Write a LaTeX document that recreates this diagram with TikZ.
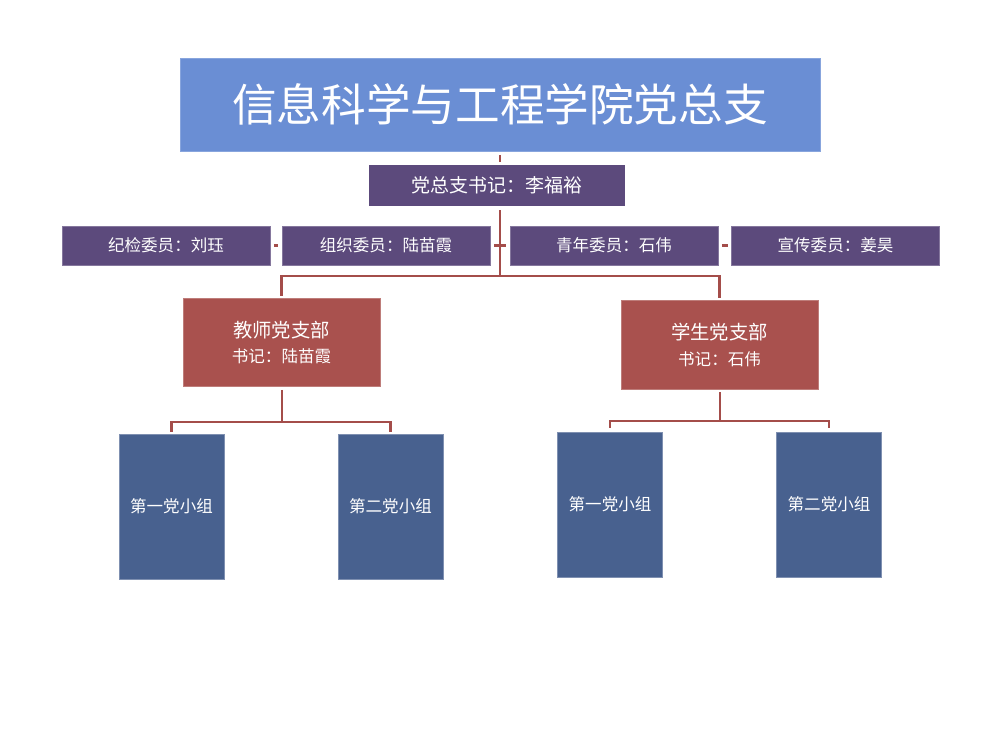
\documentclass[tikz,border=0pt]{standalone}
\usepackage{fontspec}
\newfontfamily\cjk{Noto Sans CJK SC}
\usetikzlibrary{positioning}

\definecolor{bleuTitre}{HTML}{6A8ED4}
\definecolor{violetBoite}{HTML}{5C4A7C}
\definecolor{rougeBoite}{HTML}{A9514E}
\definecolor{bleuGroupe}{HTML}{48618F}
\definecolor{rougeLien}{HTML}{A44D4A}

\tikzset{
  boite/.style={rectangle, text=white, inner sep=0pt, align=center},
  titre/.style={boite, fill=bleuTitre, draw=bleuTitre!80!white, line width=0.3pt,
    minimum width=12.8cm, minimum height=1.86cm, font=\cjk\fontsize{25.4}{28}\selectfont},
  secretaire/.style={boite, fill=violetBoite, minimum width=5.12cm, minimum height=0.82cm,
    font=\cjk\fontsize{10.8}{13}\selectfont},
  membre/.style={boite, fill=violetBoite, draw=violetBoite!75!white, line width=0.3pt,
    minimum width=4.16cm, minimum height=0.78cm, font=\cjk\fontsize{9.4}{11}\selectfont},
  branche/.style={boite, fill=rougeBoite, draw=rougeBoite!75!white, line width=0.3pt,
    minimum width=3.94cm, minimum height=1.77cm},
  groupe/.style={boite, fill=bleuGroupe, draw=bleuGroupe!70!white, line width=0.3pt,
    minimum width=2.1cm, minimum height=2.9cm, font=\cjk\fontsize{9.4}{11}\selectfont},
  lien/.style={color=rougeLien, line width=1.6pt},
}

\begin{document}
\begin{tikzpicture}[x=0.02cm, y=-0.02cm]
\useasboundingbox (0,0) rectangle (1000,750);

%% Partie 1 : titre et secretaire
   \node[titre] (titre) at (500,104.5) {信息科学与工程学院党总支};
   \node[secretaire] (secr) at (497,185.5) {党总支书记：李福裕};
   \coordinate (barre) at (500,276);

   %membres du comite
   \node[membre] (jijian) at (166,245.5) {纪检委员：刘珏};
   \node[membre] (zuzhi) at (386,245.5) {组织委员：陆苗霞};
   \node[membre] (qingnian) at (614,245.5) {青年委员：石伟};
   \node[membre] (xuanchuan) at (835.5,245.5) {宣传委员：姜昊};

   \draw [lien, shorten <=2.3pt, shorten >=1.7pt] (titre.south -| barre) -- (secr.north -| barre);
   \draw [lien, shorten <=2.3pt] (secr.south -| barre) -- (barre);
   \draw [lien, shorten <=2pt, shorten >=2pt] (jijian.east) -- (zuzhi.west);
   \draw [lien, shorten <=2.3pt, shorten >=2.3pt] (zuzhi.east) -- (qingnian.west);
   \draw [lien, shorten <=2pt, shorten >=2pt] (qingnian.east) -- (xuanchuan.west);

%% Partie 2 : branches
   \node[branche] (prof) at (281.5,342.5)
      {{\cjk\fontsize{11}{13}\selectfont 教师党支部}\\[2.5pt]{\cjk\fontsize{9.4}{11}\selectfont 书记：陆苗霞}};
   \node[branche] (etud) at (719.5,345)
      {{\cjk\fontsize{11}{13}\selectfont 学生党支部}\\[2.5pt]{\cjk\fontsize{9.4}{11}\selectfont 书记：石伟}};

   \draw [lien, shorten >=1.2pt] (barre) -| (prof.north);
   \draw [lien, shorten >=1.2pt] (barre) -| (etud.north);

%% Partie 3 : groupes
   \node[groupe] (prof1) at (171.5,506.5) {第一党小组};
   \node[groupe] (prof2) at (390.5,506.5) {第二党小组};
   \node[groupe] (etud1) at (610,504.5) {第一党小组};
   \node[groupe] (etud2) at (829,504.5) {第二党小组};

   \coordinate (barreP) at (282,422);
   \coordinate (barreE) at (720,421);

   \draw [lien, shorten <=1.7pt] (prof.south -| barreP) -- (barreP);
   \draw [lien, shorten >=1.2pt] (barreP) -| (prof1.north);
   \draw [lien, shorten >=1.2pt] (barreP) -| (prof2.north);

   \draw [lien, shorten <=1.7pt] (etud.south -| barreE) -- (barreE);
   \draw [lien, shorten >=2.3pt] (barreE) -| (etud1.north);
   \draw [lien, shorten >=2.3pt] (barreE) -| (etud2.north);

\end{tikzpicture}
\end{document}
